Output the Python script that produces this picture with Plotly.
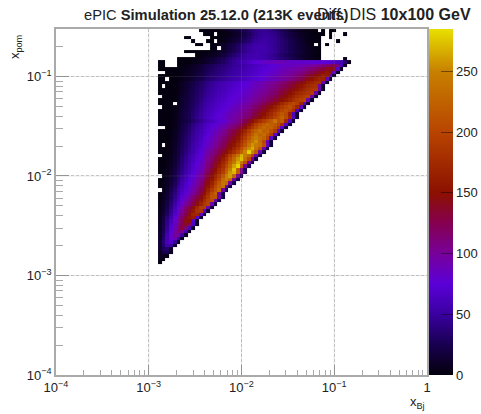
import plotly.graph_objects as go

# log10 bin layout of the 2D histogram
x_first_edge = -2.9
x_bin = 0.04
y_first_edge = -2.89
y_bin = 0.0348

# counts per x_Bj bin, rows from lowest x_pom upward; 0 means an empty bin
r00 = [3]
r01 = [6,2]
r02 = [10,7,3]
r03 = [6,22,24,6]
r04 = [14,30,34,9]
r05 = [14,34,56,48,10]
r06 = [16,38,62,70,46,8]
r07 = [14,34,60,84,88,46,9]
r08 = [12,30,58,82,102,100,52,9]
r09 = [11,28,50,74,98,116,104,56,10]
r10 = [10,26,46,70,90,112,130,112,62,11]
r11 = [9,24,44,66,86,106,124,142,118,66,12]
r12 = [9,22,42,62,84,102,120,146,150,70,12]
r13 = [8,20,38,54,78,96,116,134,156,162,76,13]
r14 = [7,17,32,48,70,88,108,126,148,170,172,80,14]
r15 = [6,14,28,44,64,82,100,118,138,158,182,184,84,15]
r16 = [5,12,24,40,58,76,94,112,130,148,172,192,192,86,16]
r17 = [4,11,22,36,54,70,84,98,114,130,148,168,188,198,88,18]
r18 = [4,9,20,32,48,64,78,92,106,122,138,156,176,196,206,90,20]
r19 = [3,8,16,29,44,58,72,84,98,112,128,144,164,186,212,214,92,20]
r20 = [3,7,14,28,40,56,66,76,88,100,116,132,152,176,206,226,94,22]
r21 = [0,6,12,24,36,52,62,72,84,96,110,126,144,164,190,212,232,94,22]
r22 = [3,5,10,20,32,46,58,68,80,90,104,118,136,154,176,204,224,236,96,24]
r23 = [2,5,9,18,28,42,54,66,76,86,98,112,128,146,166,192,216,242,232,96,24]
r24 = [2,4,8,16,26,38,50,62,72,82,94,106,120,138,156,178,200,234,250,228,98,26]
r25 = [0,3,7,14,24,36,46,58,68,78,88,100,114,130,148,168,188,216,250,262,226,100,26]
r26 = [1,3,6,13,22,33,42,54,64,72,84,94,106,122,138,156,176,194,226,258,270,222,102,28]
r27 = [1,2,5,12,20,30,40,50,60,70,80,90,102,116,132,150,170,186,218,246,276,218,104,28]
r28 = [1,2,5,10,18,28,38,48,58,68,78,88,98,110,124,142,160,178,204,232,262,282,214,100,26]
r29 = [1,1,4,9,16,26,36,46,56,66,74,84,94,106,120,136,152,170,190,222,244,268,244,208,98,24]
r30 = [1,1,4,8,14,24,34,44,54,62,72,80,90,102,114,128,144,160,178,206,232,258,276,236,202,96,22]
r31 = [0,1,3,7,13,22,32,42,52,60,70,78,88,98,110,122,136,150,168,190,216,240,270,246,232,196,92,22]
r32 = [1,1,3,6,12,20,30,38,48,56,66,74,84,94,104,114,126,138,150,164,180,200,226,252,280,252,220,90,20]
r33 = [1,1,2,6,11,19,28,36,46,54,62,70,80,88,98,108,118,128,140,152,168,184,206,236,254,268,238,214,88,20]
r34 = [1,0,2,5,10,18,27,34,44,52,60,68,76,84,92,102,112,122,132,144,156,172,190,212,240,258,246,236,208,84,18]
r35 = [1,1,2,4,10,17,25,33,42,50,58,66,74,80,90,98,108,116,126,136,148,162,180,204,226,242,256,232,202,82,18]
r36 = [1,1,1,4,9,16,24,32,40,48,56,64,72,78,86,94,102,112,120,130,140,154,170,192,214,236,248,234,224,198,80,18]
r37 = [1,1,1,3,8,15,22,30,38,46,54,62,68,76,82,90,98,106,114,124,134,146,160,182,202,222,240,226,234,214,192,78,17]
r38 = [1,1,1,3,7,14,21,28,36,44,52,58,66,72,80,86,94,102,110,118,128,140,152,170,190,212,226,240,222,228,208,188,76,16]
r39 = [0,0,1,2,6,13,20,26,34,42,50,56,62,68,74,80,86,92,98,106,114,124,136,150,168,186,204,220,232,218,226,210,184,74,16]
r40 = [1,1,1,2,5,12,18,25,32,40,47,54,60,66,72,76,82,88,94,100,106,114,124,138,154,172,192,208,218,230,222,216,204,178,72,15]
r41 = [1,1,1,2,5,10,15,20,25,33,40,46,53,59,64,68,74,78,84,90,96,104,114,124,138,150,164,178,192,204,216,238,210,220,172,70,15]
r42 = [1,1,1,2,5,10,16,22,28,36,44,51,58,64,69,74,78,82,86,90,96,100,106,112,120,128,138,148,160,172,184,198,210,226,206,168,68,14]
r43 = [1,1,1,1,5,10,15,21,27,34,42,49,56,61,66,71,75,79,83,87,92,96,102,108,114,122,130,140,150,162,174,188,202,216,204,164,66,14]
r44 = [1,1,1,1,4,9,14,20,26,33,40,47,54,59,64,68,72,76,80,84,88,92,98,104,110,116,124,132,142,152,164,176,188,200,210,198,178,64,13]
r45 = [0,1,1,1,4,8,13,19,25,31,38,45,51,56,61,65,69,73,76,80,84,88,94,98,104,110,116,124,132,142,152,164,176,188,198,208,192,170,80,13]
r46 = [1,1,1,1,0,7,12,18,23,29,36,43,49,54,59,63,67,70,74,77,80,84,88,93,98,103,108,114,122,130,138,150,160,172,184,196,204,194,168,84,12]
r47 = [1,1,1,1,1,7,12,17,22,28,34,40,46,51,56,60,64,67,71,74,77,80,84,88,92,97,101,106,112,118,126,134,140,150,158,168,180,190,196,200,88,12]
r48 = [0,1,1,1,1,6,11,16,21,27,32,38,44,49,54,58,62,65,69,72,75,78,81,85,89,93,97,102,106,112,118,126,132,140,148,158,168,178,186,192,196,90,12]
r49 = [1,1,1,1,1,5,10,15,20,26,31,37,42,47,52,56,60,63,66,70,73,76,79,82,86,90,94,98,102,107,112,118,124,132,140,148,158,168,176,182,186,190,92,14]
r50 = [1,1,1,1,1,5,9,14,19,25,30,35,40,45,50,54,58,61,64,67,70,73,76,80,83,87,90,94,98,103,108,113,118,124,131,138,146,154,162,172,180,186,188,92,14]
r51 = [1,0,1,1,1,4,8,13,18,23,28,33,38,43,48,52,56,59,62,65,68,71,74,77,80,84,88,91,95,99,104,108,113,118,124,130,138,146,154,162,172,180,182,92,13]
r52 = [1,1,1,1,1,4,7,12,17,22,27,32,36,41,46,50,54,57,60,63,66,69,72,75,78,82,85,88,92,96,100,104,108,112,118,124,130,136,144,152,160,168,176,178,92,13]
r53 = [1,1,0,1,1,2,4,8,11,15,20,24,28,33,37,40,43,46,49,52,55,58,61,64,67,70,73,76,79,83,86,90,93,96,100,106,112,118,124,132,142,152,160,170,168,86,12]
r54 = [1,1,1,1,1,2,4,7,10,14,18,22,26,31,35,38,41,44,47,50,53,56,59,62,65,68,71,74,77,80,84,87,90,94,97,100,104,110,116,122,130,138,146,154,164,160,84,11]
r55 = [0,0,1,1,1,2,3,6,9,12,16,20,24,28,33,36,39,42,45,48,51,54,57,60,63,66,69,72,75,78,81,84,87,90,94,97,100,104,108,112,118,124,132,140,148,158,150,80,10]
r56 = [1,1,1,1,1,1,3,5,8,11,14,18,22,26,30,34,37,40,43,46,49,52,55,58,61,64,67,70,73,76,78,81,84,87,90,92,94,97,100,104,108,112,118,124,132,140,150,140,72,9]
r57 = [1,1,0,0,0,1,2,4,6,9,12,16,20,24,28,31,34,37,40,43,46,49,52,55,58,60,63,66,69,71,74,76,79,81,84,84,86,88,90,92,94,96,100,104,108,114,120,124,112,60,8]
r58 = [2,1,0,0,0,1,1,1,2,3,5,7,10,13,17,21,26,30,36,40,46,50,56,60,66,70,74,78,82,84,86,88,88,90,86,84,82,84,80,82,80,78,80,76,78,74,72,70,64,56,36,6]
r59 = [0,0,0,0,0,1,1,1,2,3,4,6,8,11,14,18,22,27,32,37,42,46,50,53,56,57,58,57,55,52,48,45,40,36,32,28,24,20,16,12,9,6,4,3,0,0,0,0,0,0,6]
r60 = [0,0,0,0,0,0,0,0,0,0,1,2,3,5,7,9,12,17,22,28,34,40,45,50,54,56,57,56,54,50,46,42,38,33,29,25,21,17,13,10,7,5,3,1]
r61 = [0,0,0,0,0,0,0,1,1,1,1,1,1,2,4,7,9,12,16,21,26,32,38,44,49,53,55,56,55,53,50,46,41,37,33,28,24,19,15,12,9,6,4,2]
r62 = [0,0,0,0,0,0,0,0,0,0,0,0,0,0,1,5,0,12,15,20,26,32,38,44,49,53,55,56,55,52,49,44,40,36,31,26,22,18,14,11,8,5,3,1]
r63 = [0,0,0,0,0,0,0,0,0,0,1,1,0,0,2,4,6,10,13,18,23,29,35,41,46,50,53,55,54,51,48,44,40,36,31,26,22,18,13,10,6,4,0,1,0,1]
r64 = [0,0,0,0,0,0,0,0,0,1,0,0,0,1,1,0,2,4,7,10,14,19,25,31,37,43,48,51,52,51,48,44,40,35,31,26,21,16,12,8,5,3,2,1,0,0,0,0,1]
r65 = [0,0,0,0,0,0,0,1,1,0,0,0,0,0,1,1,2,3,5,8,11,15,20,26,32,38,43,47,50,50,47,43,38,33,28,23,18,14,10,7,5,3,2,1,0,0,1]
r66 = [0,0,0,0,0,0,0,0,0,0,0,0,1,1,1,0,1,2,3,5,8,12,17,23,29,35,41,45,47,48,45,41,36,31,26,21,17,13,9,6,4,3,1,1,1,0,1,0,0,0,1]
r67 = [0,0,0,0,0,0,0,0,0,0,0,1,1,1,1,1,2,4,6,9,12,16,21,26,32,37,42,45,46,45,41,37,32,27,22,17,12,9,6,4,3,2,1,0,1,0,1,1]

rows = [r00,r01,r02,r03,r04,r05,r06,r07,r08,r09,r10,r11,r12,r13,r14,r15,r16,r17,r18,r19,
        r20,r21,r22,r23,r24,r25,r26,r27,r28,r29,r30,r31,r32,r33,r34,r35,r36,r37,r38,r39,
        r40,r41,r42,r43,r44,r45,r46,r47,r48,r49,r50,r51,r52,r53,r54,r55,r56,r57,r58,r59,
        r60,r61,r62,r63,r64,r65,r66,r67]

decades = [1e-4, 1e-3, 1e-2, 1e-1]
x_tick_vals = decades + [1]
x_tick_text = ["10<sup>−4</sup>", "10<sup>−3</sup>", "10<sup>−2</sup>", "10<sup>−1</sup>", "1"]
y_tick_vals = decades
y_tick_text = ["10<sup>−4</sup>", "10<sup>−3</sup>", "10<sup>−2</sup>", "10<sup>−1</sup>"]
cbar_ticks = [0, 50, 100, 150, 200, 250]
z_max = 285

palette = [(0, "#04000c"), (25, "#180050"), (50, "#3a00a0"), (75, "#5a00d8"), (100, "#78009a"),
           (125, "#850050"), (150, "#8c1000"), (200, "#b84400"), (250, "#c88000"), (285, "#e8e000")]

ncols = max(len(r) for r in rows)
z = [[(v if v > 0 else None) for v in r] + [None] * (ncols - len(r)) for r in rows]
x_edges = [10 ** (x_first_edge + i * x_bin) for i in range(ncols + 1)]
y_edges = [10 ** (y_first_edge + j * y_bin) for j in range(len(rows) + 1)]

W, H = 481, 414
L, R, T, B = 55.5, 427, 28.5, 375
def px(v): return (v - L) / (R - L)
def py(v): return (B - v) / (B - T)

fig = go.Figure(go.Heatmap(
    x=x_edges, y=y_edges, z=z, zmin=0, zmax=z_max, hoverongaps=False,
    colorscale=[[v / z_max, c] for v, c in palette],
    colorbar=dict(x=px(429), xanchor="left", y=0, yanchor="bottom", len=1,
                  thicknessmode="pixels", thickness=24, xpad=0, ypad=0, outlinewidth=0,
                  tickmode="array", tickvals=cbar_ticks, ticks="inside", ticklen=12,
                  tickcolor="rgba(0,0,0,0.45)", tickwidth=1,
                  tickfont=dict(family="Liberation Sans", size=13, color="#222222")),
))

def axis(vals, text, rng, major, minor):
    return dict(type="log", range=rng, tickmode="array", tickvals=vals, ticktext=text,
                ticks="inside", ticklen=major, tickcolor="#999999", tickwidth=1,
                tickfont=dict(family="Liberation Sans", size=13, color="#222222"),
                showline=True, linecolor="#aaaaaa", linewidth=1.5, mirror=True,
                showgrid=True, gridcolor="#cfcfcf", griddash="3px,2px", gridwidth=1, zeroline=False,
                minor=dict(ticks="inside", ticklen=minor, tickcolor="#aaaaaa", tickwidth=1,
                           dtick="D1", showgrid=False))

fig.update_layout(
    width=W, height=H, margin=dict(l=L, r=W - R, t=T, b=H - B, autoexpand=False),
    paper_bgcolor="white", plot_bgcolor="white",
    xaxis=axis(x_tick_vals, x_tick_text, [-4, 0], 10, 5),
    yaxis=axis(y_tick_vals, y_tick_text, [-4, -0.523], 13, 7),
)

# dashed grid also shows faintly through the filled bins
for d in decades[1:]:
    fig.add_shape(type="line", xref="x", yref="paper", x0=d, x1=d, y0=0, y1=1,
                  line=dict(color="rgba(120,120,120,0.18)", width=1), layer="above")
    fig.add_shape(type="line", xref="paper", yref="y", x0=0, x1=1, y0=d, y1=d,
                  line=dict(color="rgba(120,120,120,0.18)", width=1), layer="above")

def note(text, xp, yp, anchor="left", size=15, angle=0):
    fig.add_annotation(text=text, xref="paper", yref="paper", x=px(xp), y=py(yp),
                       xanchor=anchor, yanchor="middle", showarrow=False, textangle=angle,
                       font=dict(family="Liberation Sans", size=size, color="#222222"))

note("ePIC <b>Simulation 25.12.0 (213K events)</b>", 82, 14, size=14.7)
note("Diff. DIS <b>10x100 GeV</b>", 473, 14, anchor="right", size=16)
note("x<sub>Bj</sub>", 427, 403, anchor="right", size=13)
note("x<sub>pom</sub>", 15, 47, anchor="center", size=13, angle=-90)

fig.write_html("out.html", config={"displayModeBar": False},
               post_script="document.body.style.margin='0';")
